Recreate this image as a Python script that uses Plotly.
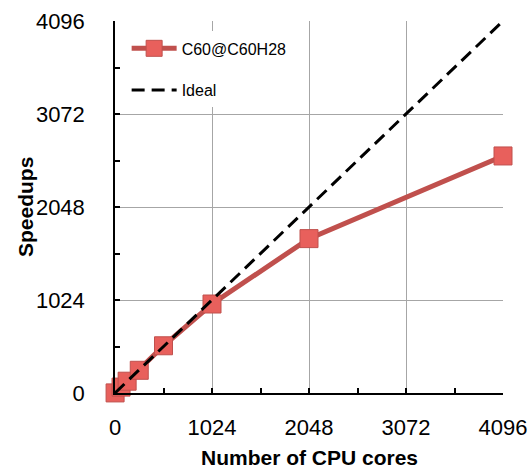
import plotly.graph_objects as go

cores = [1, 64, 128, 256, 512, 1024, 2048, 4096]
speedups = [1, 65, 130, 250, 520, 980, 1700, 2610]
ideal = [0, 1024, 2048, 3072, 4096]
ideal_x = [0, 1024, 2048, 3072, 4096]
tick_vals = [0, 1024, 2048, 3072, 4096]
tick_text = ["0", "1024", "2048", "3072", "4096"]

FONT = "Liberation Sans"

fig = go.Figure()
fig.add_trace(go.Scatter(
    x=cores, y=speedups, mode="lines+markers", name="C60@C60H28",
    legendgroup="a", cliponaxis=False,
    line=dict(color="#C0504D", width=5),
    marker=dict(symbol="square", size=18, color="#E8605C",
                line=dict(color="#C0504D", width=1)),
))
fig.add_trace(go.Scatter(
    x=ideal_x, y=ideal, mode="lines", name="Ideal",
    legendgroup="b", cliponaxis=False,
    line=dict(color="black", width=3, dash="13px,7px"),
))

axis_common = dict(
    range=[0, 4096], tickvals=tick_vals, ticktext=tick_text,
    showgrid=True, gridcolor="#A6A6A6", gridwidth=1,
    showline=True, linecolor="black", linewidth=1.5,
    ticks="inside", ticklen=5, tickcolor="black", tickwidth=1.5,
    tickfont=dict(family=FONT, size=22, color="black"),
    minor=dict(dtick=512, tick0=0, ticks="inside", ticklen=5,
               tickcolor="black", tickwidth=1.5, showgrid=False),
    zeroline=False, automargin=False,
)

fig.update_layout(
    width=528, height=469,
    margin=dict(l=115, r=25, t=21, b=76),
    paper_bgcolor="white", plot_bgcolor="white",
    showlegend=True,
    legend=dict(x=0.03, y=0.972, xanchor="left", yanchor="top",
                bgcolor="white", borderwidth=0,
                font=dict(family=FONT, size=16, color="black"),
                tracegroupgap=18, itemwidth=45),
    xaxis=dict(**axis_common, ticklabelstandoff=14),
    yaxis=dict(**axis_common, ticklabelstandoff=24),
    annotations=[
        dict(text="<b>Number of CPU cores</b>", xref="paper", yref="paper",
             x=0.5, y=0, xanchor="center", yanchor="middle", yshift=-64,
             showarrow=False, font=dict(family=FONT, size=21, color="black")),
        dict(text="<b>Speedups</b>", xref="paper", yref="paper",
             x=0, y=0.5, xanchor="center", yanchor="middle", xshift=-90,
             textangle=-90, showarrow=False,
             font=dict(family=FONT, size=21, color="black")),
    ],
)

fig.write_html(
    "out.html",
    config={"displayModeBar": False},
    post_script="document.body.style.margin='0';document.body.style.overflow='hidden';",
)
